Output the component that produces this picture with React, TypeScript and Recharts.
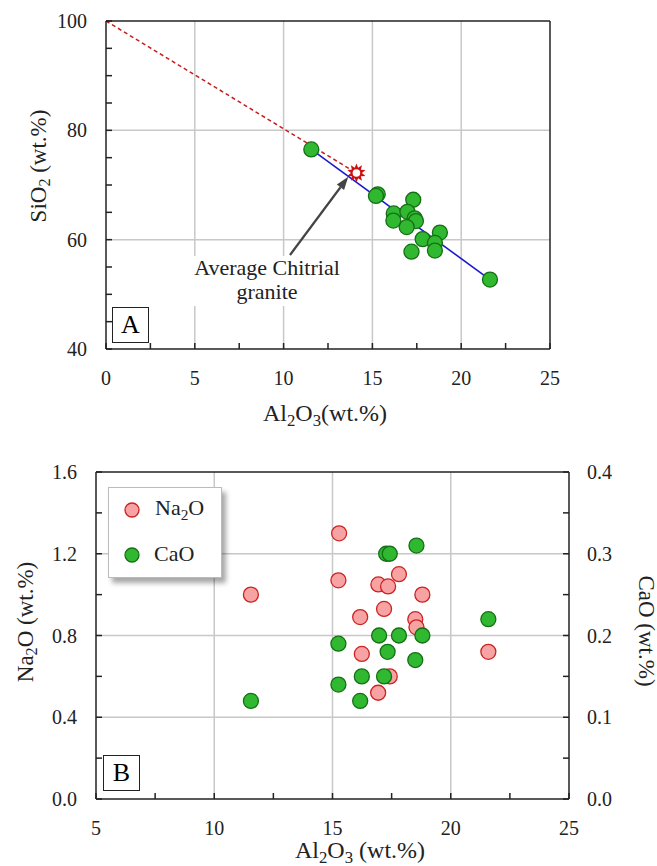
import React from "react"
import { ScatterChart, Scatter, XAxis, YAxis, ReferenceLine } from "recharts"

// Figure A: SiO2 vs Al2O3
const al2o3A = [11.56, 15.3, 15.2, 17.3, 16.2, 16.97, 17.38, 17.45, 16.18, 16.93, 17.83, 18.8, 18.52, 18.52, 17.2, 21.62]
const sio2A = [76.5, 68.3, 68.0, 67.3, 64.8, 65.1, 63.9, 63.4, 63.5, 62.3, 60.1, 61.3, 59.4, 58.0, 57.8, 52.7]
const avgGranite = [{ x: 14.1, y: 72.2 }]
const trendLine = [{ x: 11.56, y: 76.5 }, { x: 21.62, y: 52.7 }]
const mixLine = [{ x: 0, y: 100 }, { x: 14.1, y: 72.2 }]
const arrowSeg = [{ x: 10.36, y: 57.2 }, { x: 13.64, y: 71.5 }]

// Figure B: Na2O and CaO vs Al2O3
const al2o3Na = [11.55, 15.28, 15.25, 16.94, 17.35, 17.81, 18.8, 17.18, 16.17, 18.5, 18.55, 16.24, 17.42, 16.93, 21.59]
const na2o = [1.0, 1.3, 1.07, 1.05, 1.04, 1.1, 1.0, 0.93, 0.89, 0.88, 0.84, 0.71, 0.6, 0.52, 0.72]
const al2o3Ca = [11.55, 15.25, 15.25, 16.17, 16.24, 16.97, 17.33, 17.18, 17.27, 17.42, 17.81, 18.55, 18.5, 18.8, 21.59]
const cao = [0.12, 0.19, 0.14, 0.12, 0.15, 0.2, 0.18, 0.15, 0.3, 0.3, 0.2, 0.31, 0.17, 0.2, 0.22]

const xTicksA = [0, 2.5, 5, 7.5, 10, 12.5, 15, 17.5, 20, 22.5, 25]
const xLabelsA = [0, 5, 10, 15, 20, 25]
const yTicksA = [40, 45, 50, 55, 60, 65, 70, 75, 80, 85, 90, 95, 100]
const yLabelsA = [40, 60, 80, 100]
const xTicksB = [5, 7.5, 10, 12.5, 15, 17.5, 20, 22.5, 25]
const xLabelsB = [5, 10, 15, 20, 25]
const yTicksB = [0, 0.2, 0.4, 0.6, 0.8, 1.0, 1.2, 1.4, 1.6]
const yLabelsB = [0, 0.4, 0.8, 1.2, 1.6]
const yTicksBR = [0, 0.05, 0.1, 0.15, 0.2, 0.25, 0.3, 0.35, 0.4]
const yLabelsBR = [0, 0.1, 0.2, 0.3, 0.4]

const FONT = "Liberation Serif, DejaVu Serif, Times New Roman, serif"
const FRAME = "#222"
const GRID = "#c8c8c8"

const pts = (xs: number[], ys: number[]) => xs.map((x, i) => ({ x, y: ys[i] }))

type Side = "bottom" | "top" | "left" | "right"

function makeTick(side: Side, labels: number[] | null, fmt: (v: number) => string) {
  return (props: any) => {
    const { x, y, payload } = props
    const v = payload.value
    const L = 6
    let line
    if (side === "bottom") line = <line x1={x} y1={y} x2={x} y2={y - L} stroke={FRAME} strokeWidth={1.5} />
    else if (side === "top") line = <line x1={x} y1={y} x2={x} y2={y + L} stroke={FRAME} strokeWidth={1.5} />
    else if (side === "left") line = <line x1={x} y1={y} x2={x + L} y2={y} stroke={FRAME} strokeWidth={1.5} />
    else line = <line x1={x} y1={y} x2={x - L} y2={y} stroke={FRAME} strokeWidth={1.5} />
    const show = labels && labels.some((l) => Math.abs(l - v) < 1e-6)
    let text = null
    if (show) {
      const common = { style: { fontFamily: FONT }, fontSize: 20, fill: "#222" }
      if (side === "bottom")
        text = <text x={x} y={y + 36} textAnchor="middle" {...common}>{fmt(v)}</text>
      else if (side === "left")
        text = <text x={x - 19} y={y + 7} textAnchor="end" {...common}>{fmt(v)}</text>
      else if (side === "right")
        text = <text x={x + 18} y={y + 7} textAnchor="start" {...common}>{fmt(v)}</text>
    }
    return (
      <g>
        {line}
        {text}
      </g>
    )
  }
}

const GreenDot = (p: any) => <circle cx={p.cx} cy={p.cy} r={7.5} fill="#30b830" stroke="#157015" strokeWidth={1.3} />
const PinkDot = (p: any) => <circle cx={p.cx} cy={p.cy} r={7.5} fill="#f7a3a3" stroke="#cc2222" strokeWidth={1.3} />

const StarShape = (p: any) => {
  const { cx, cy } = p
  const n = 10
  const points: string[] = []
  for (let i = 0; i < n * 2; i++) {
    const r = i % 2 === 0 ? 9.5 : 5.5
    const a = (Math.PI * i) / n - Math.PI / 2
    points.push(`${cx + r * Math.cos(a)},${cy + r * Math.sin(a)}`)
  }
  return (
    <g>
      <polygon points={points.join(" ")} fill="#cc1010" />
      <circle cx={cx} cy={cy} r={3.8} fill="#fff" />
    </g>
  )
}

const ArrowShape = (p: any) => {
  const { x1, y1, x2, y2 } = p
  const ang = Math.atan2(y2 - y1, x2 - x1)
  const len = 13
  const w = 4.5
  const bx = x2 - len * Math.cos(ang)
  const by = y2 - len * Math.sin(ang)
  const px = -Math.sin(ang) * w
  const py = Math.cos(ang) * w
  return (
    <g>
      <line x1={x1} y1={y1} x2={bx} y2={by} stroke="#444" strokeWidth={2.2} />
      <polygon points={`${x2},${y2} ${bx + px},${by + py} ${bx - px},${by - py}`} fill="#444" />
    </g>
  )
}

const fmtInt = (v: number) => String(v)
const fmt1 = (v: number) => v.toFixed(1)

const abs = (left: number, top: number): React.CSSProperties => ({ position: "absolute", left, top })

function Chem({ parts }: { parts: [string, string?][] }) {
  return (
    <>
      {parts.map(([t, s], i) => (
        <React.Fragment key={i}>
          {t}
          {s ? <sub style={{ fontSize: "0.7em", verticalAlign: "-0.3em", lineHeight: 0 }}>{s}</sub> : null}
        </React.Fragment>
      ))}
    </>
  )
}

const titleStyle = (cx: number, cy: number, rot: number, size: number): React.CSSProperties => ({
  position: "absolute",
  left: cx,
  top: cy,
  transform: `translate(-50%, -50%) rotate(${rot}deg)`,
  whiteSpace: "nowrap",
  fontFamily: FONT,
  fontSize: size,
  color: "#222",
  lineHeight: 1,
})

const boxLabel = (left: number, top: number): React.CSSProperties => ({
  position: "absolute",
  left,
  top,
  width: 35,
  height: 34,
  border: "1.5px solid #222",
  background: "#fff",
  fontFamily: FONT,
  fontSize: 26,
  display: "flex",
  alignItems: "center",
  justifyContent: "center",
  lineHeight: 1,
})

export default function App() {
  const dataA = pts(al2o3A, sio2A)
  const dataNa = pts(al2o3Na, na2o)
  const dataCa = pts(al2o3Ca, cao)

  return (
    <div style={{ position: "absolute", left: 0, top: 0, width: 657, height: 866, background: "#fff", overflow: "hidden", fontFamily: FONT }}>
      {/* Chart A */}
      <div style={abs(0, 0)}>
        <ScatterChart width={657} height={440} margin={{ top: 20, right: 97, bottom: 51, left: 56 }}>
          <XAxis type="number" dataKey="x" domain={[0, 25]} ticks={xTicksA} interval={0} tickSize={0} tickMargin={0}
            tickLine={false} axisLine={{ stroke: FRAME, strokeWidth: 1.5 }} height={40}
            tick={makeTick("bottom", xLabelsA, fmtInt)} />
          <XAxis xAxisId="top" orientation="top" type="number" domain={[0, 25]} ticks={xTicksA} interval={0} tickSize={0}
            tickMargin={0} tickLine={false} axisLine={{ stroke: FRAME, strokeWidth: 1.5 }} height={1}
            tick={makeTick("top", null, fmtInt)} />
          <YAxis type="number" dataKey="y" domain={[40, 100]} ticks={yTicksA} interval={0} tickSize={0} tickMargin={0}
            tickLine={false} axisLine={{ stroke: FRAME, strokeWidth: 1.5 }} width={50}
            tick={makeTick("left", yLabelsA, fmtInt)} />
          <YAxis yAxisId="r" orientation="right" type="number" domain={[40, 100]} ticks={yTicksA} interval={0} tickSize={0}
            tickMargin={0} tickLine={false} axisLine={{ stroke: FRAME, strokeWidth: 1.5 }} width={10}
            tick={makeTick("right", null, fmtInt)} />
          {[5, 10, 15, 20].map((v) => (
            <ReferenceLine key={"gx" + v} x={v} stroke={GRID} strokeWidth={1.5} />
          ))}
          {[60, 80].map((v) => (
            <ReferenceLine key={"gy" + v} y={v} stroke={GRID} strokeWidth={1.5} />
          ))}
          <ReferenceLine segment={mixLine} stroke="#c41e1e" strokeWidth={1.5} strokeDasharray="4 3" />
          <Scatter data={dataA} shape={GreenDot} isAnimationActive={false} />
          <ReferenceLine segment={trendLine} stroke="#1a1acc" strokeWidth={1.6} />
          <Scatter data={avgGranite} shape={StarShape} isAnimationActive={false} />
          <ReferenceLine segment={arrowSeg} shape={ArrowShape} />
        </ScatterChart>
      </div>
      <div style={{ position: "absolute", left: 186, top: 256, width: 162, height: 50, background: "#fff",
        fontFamily: FONT, fontSize: 22, lineHeight: "24px", textAlign: "center", color: "#222" }}>
        Average Chitrial
        <br />
        granite
      </div>
      <div style={boxLabel(112, 307)}>A</div>
      <div style={titleStyle(325, 413, 0, 24)}>
        <Chem parts={[["Al", "2"], ["O", "3"], ["(wt.%)"]]} />
      </div>
      <div style={titleStyle(38, 166, -90, 23)}>
        <Chem parts={[["SiO", "2"], [" (wt.%)"]]} />
      </div>

      {/* Chart B */}
      <div style={abs(0, 440)}>
        <ScatterChart width={657} height={426} margin={{ top: 31, right: 38, bottom: 27, left: 46 }}>
          <XAxis type="number" dataKey="x" domain={[5, 25]} ticks={xTicksB} interval={0} tickSize={0} tickMargin={0}
            tickLine={false} axisLine={{ stroke: FRAME, strokeWidth: 1.5 }} height={40}
            tick={makeTick("bottom", xLabelsB, fmtInt)} />
          <XAxis xAxisId="top" orientation="top" type="number" domain={[5, 25]} ticks={xTicksB} interval={0} tickSize={0}
            tickMargin={0} tickLine={false} axisLine={{ stroke: FRAME, strokeWidth: 1.5 }} height={1}
            tick={makeTick("top", null, fmtInt)} />
          <YAxis type="number" dataKey="y" domain={[0, 1.6]} ticks={yTicksB} interval={0} tickSize={0} tickMargin={0}
            tickLine={false} axisLine={{ stroke: FRAME, strokeWidth: 1.5 }} width={50}
            tick={makeTick("left", yLabelsB, fmt1)} />
          <YAxis yAxisId="right" orientation="right" type="number" dataKey="y" domain={[0, 0.4]} ticks={yTicksBR}
            interval={0} tickSize={0} tickMargin={0} tickLine={false} axisLine={{ stroke: FRAME, strokeWidth: 1.5 }}
            width={50} tick={makeTick("right", yLabelsBR, fmt1)} />
          {[10, 15, 20].map((v) => (
            <ReferenceLine key={"gx" + v} x={v} stroke={GRID} strokeWidth={1.5} />
          ))}
          {[0.4, 0.8, 1.2].map((v) => (
            <ReferenceLine key={"gy" + v} y={v} stroke={GRID} strokeWidth={1.5} />
          ))}
          <Scatter name="Na2O" data={dataNa} shape={PinkDot} isAnimationActive={false} />
          <Scatter name="CaO" data={dataCa} yAxisId="right" shape={GreenDot} isAnimationActive={false} />
        </ScatterChart>
      </div>
      <div style={{ position: "absolute", left: 108, top: 487, width: 112, height: 89, background: "#fff",
        border: "1px solid #bbb", boxShadow: "4px 5px 5px rgba(0,0,0,0.35)", fontFamily: FONT, fontSize: 22, color: "#222" }}>
        <svg width={40} height={89} style={{ position: "absolute", left: 0, top: 0 }}>
          <circle cx={23} cy={22} r={7} fill="#f7a3a3" stroke="#cc2222" strokeWidth={1.3} />
          <circle cx={23} cy={67} r={7} fill="#30b830" stroke="#157015" strokeWidth={1.3} />
        </svg>
        <div style={{ position: "absolute", left: 46, top: 9, lineHeight: 1 }}>
          <Chem parts={[["Na", "2"], ["O"]]} />
        </div>
        <div style={{ position: "absolute", left: 45, top: 55, lineHeight: 1 }}>CaO</div>
      </div>
      <div style={boxLabel(103, 755)}>B</div>
      <div style={titleStyle(360, 850, 0, 24)}>
        <Chem parts={[["Al", "2"], ["O", "3"], [" (wt.%)"]]} />
      </div>
      <div style={titleStyle(25, 622, -90, 23)}>
        <Chem parts={[["Na", "2"], ["O (wt.%)"]]} />
      </div>
      <div style={titleStyle(646, 631, 90, 23)}>
        <Chem parts={[["CaO (wt.%)"]]} />
      </div>
    </div>
  )
}
